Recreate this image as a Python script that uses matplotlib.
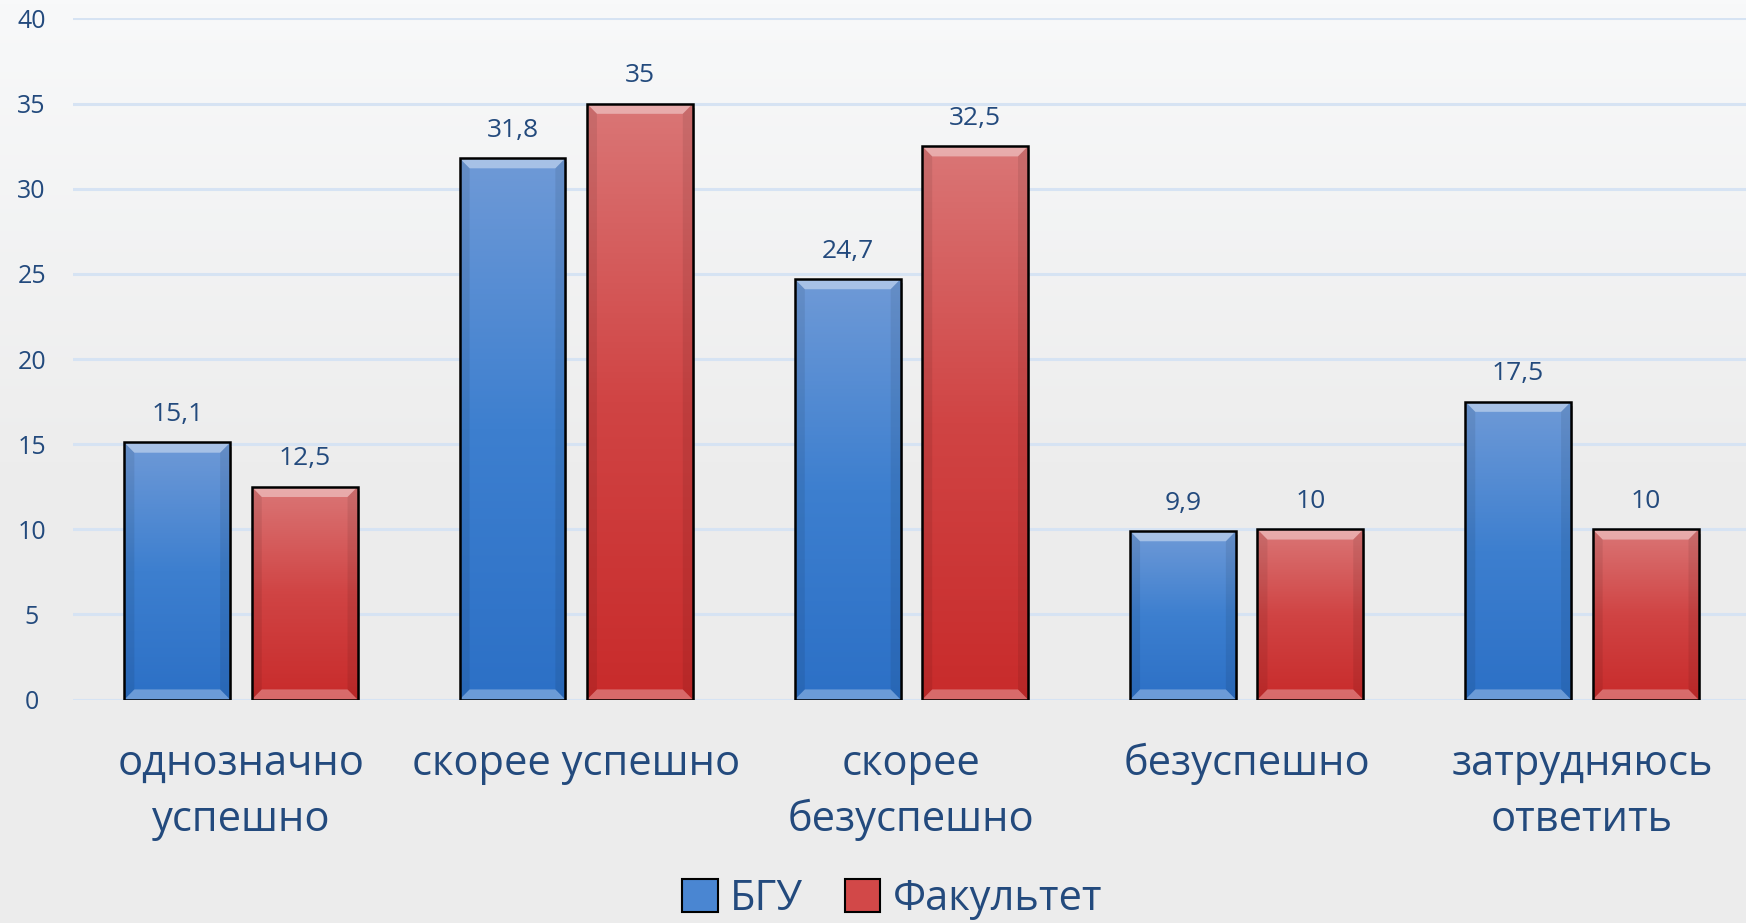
import matplotlib.pyplot as plt
import numpy as np
from matplotlib.colors import LinearSegmentedColormap
from matplotlib.patches import Patch, Polygon, Rectangle

plt.rcParams['font.family'] = ['Open Sans', 'DejaVu Sans']

categories = ['однозначно\nуспешно', 'скорее успешно', 'скорее\nбезуспешно',
              'безуспешно', 'затрудняюсь\nответить']
bgu = [15.1, 31.8, 24.7, 9.9, 17.5]
fac = [12.5, 35, 32.5, 10, 10]
series_names = ['БГУ', 'Факультет']

text_color = '#234a7d'
blue_cmap = LinearSegmentedColormap.from_list('b', ['#2c70c6', '#3d7fcf', '#6f9ad7'])
red_cmap = LinearSegmentedColormap.from_list('r', ['#c82b2b', '#d04444', '#da7676'])

fig = plt.figure(figsize=(17.46, 9.23), dpi=100)

# background gradient
bg = fig.add_axes([0, 0, 1, 1], zorder=-10)
grad = np.linspace(0, 1, 256).reshape(-1, 1)
bg.imshow(grad, aspect='auto', origin='lower', extent=[0, 1, 0, 1],
          cmap=LinearSegmentedColormap.from_list('bg', ['#ececec', '#ededed', '#f8f9fa']))
bg.axis('off')

ax = fig.add_axes([0.042, 0.242, 0.96, 0.738])
ax.patch.set_alpha(0)

x = np.arange(len(categories))
w = 0.316
off = 0.19


def fancy_bars(xs, vals, cmap):
    bars = ax.bar(xs, vals, w, facecolor='none', edgecolor='black', linewidth=1.8, zorder=4)
    for b in bars:
        x0, y0 = b.get_x(), b.get_y()
        bw, bh = b.get_width(), b.get_height()
        # shadow
        ax.add_patch(Rectangle((x0 + 0.006, y0 - 0.25), bw, bh, facecolor='#000000',
                               alpha=0.18, linewidth=0, zorder=2))
        im = ax.imshow(grad, aspect='auto', origin='lower', cmap=cmap,
                       extent=[x0, x0 + bw, y0, y0 + bh], zorder=3)
        im.set_clip_path(b)
        # bevel
        dx, dy = 0.03, 0.6
        top = Polygon([(x0, y0 + bh), (x0 + bw, y0 + bh), (x0 + bw - dx, y0 + bh - dy),
                       (x0 + dx, y0 + bh - dy)], facecolor='white', alpha=0.4, lw=0, zorder=3.5)
        bot = Polygon([(x0, y0), (x0 + bw, y0), (x0 + bw - dx, y0 + dy),
                       (x0 + dx, y0 + dy)], facecolor='white', alpha=0.3, lw=0, zorder=3.5)
        left = Polygon([(x0, y0), (x0 + dx, y0 + dy), (x0 + dx, y0 + bh - dy),
                        (x0, y0 + bh)], facecolor='black', alpha=0.08, lw=0, zorder=3.5)
        right = Polygon([(x0 + bw, y0), (x0 + bw - dx, y0 + dy), (x0 + bw - dx, y0 + bh - dy),
                         (x0 + bw, y0 + bh)], facecolor='black', alpha=0.08, lw=0, zorder=3.5)
        for p in (top, bot, left, right):
            ax.add_patch(p)
        ax.text(b.get_x() + bw / 2, bh + 0.9, ('%g' % bh).replace('.', ','),
                ha='center', va='bottom', fontsize=19, color=text_color, zorder=5)
    return bars


fancy_bars(x - off, bgu, blue_cmap)
fancy_bars(x + off, fac, red_cmap)

ax.set_xlim(-0.5, len(categories) - 0.5)
ax.set_ylim(0, 40)
ax.set_yticks(np.arange(0, 41, 5))
ax.yaxis.grid(True, color='#d6e3f3', linewidth=2.2, zorder=0)
ax.set_axisbelow(True)
for s in ax.spines.values():
    s.set_visible(False)
ax.tick_params(axis='both', length=0, colors=text_color)
ax.tick_params(axis='y', labelsize=18, pad=30)
for lab in ax.get_yticklabels():
    lab.set_horizontalalignment('center')
ax.set_xticks(x)
ax.set_xticklabels(categories, fontsize=30, linespacing=1.45)
ax.tick_params(axis='x', pad=31)

handles = [Patch(facecolor='#4a86d2', edgecolor='black', linewidth=1.5),
           Patch(facecolor='#d24848', edgecolor='black', linewidth=1.5)]
leg = fig.legend(handles, series_names, loc='center', bbox_to_anchor=(0.511, 0.026),
                 ncol=2, frameon=False, fontsize=30, handlelength=0.85, handleheight=0.85,
                 handletextpad=0.3, columnspacing=1.0)
for t in leg.get_texts():
    t.set_color(text_color)

fig.savefig('out.png', dpi=100)
